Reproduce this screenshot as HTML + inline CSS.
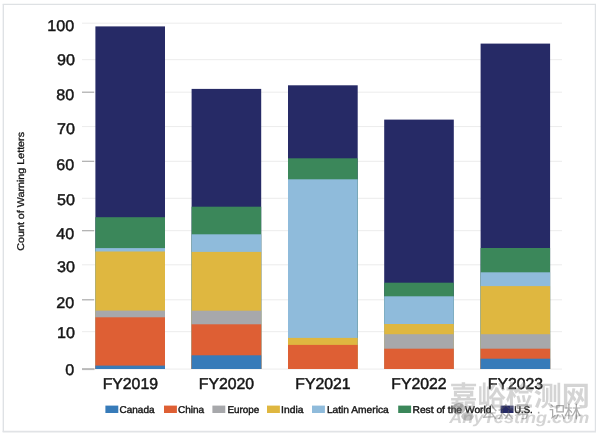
<!DOCTYPE html>
<html lang="en"><head><meta charset="utf-8"><title>Count of Warning Letters</title>
<style>
html,body{margin:0;padding:0;background:#fff;}
body{width:600px;height:436px;overflow:hidden;font-family:"Liberation Sans","Noto Sans CJK SC",sans-serif;}
svg{display:block}
text{text-rendering:geometricPrecision;font-family:"Liberation Sans","Noto Sans CJK SC",sans-serif;fill:#161616}
.yl{font-size:15.5px;text-anchor:end;stroke:#161616;stroke-width:0.45px}
.xl{font-size:15.8px;text-anchor:middle;stroke:#161616;stroke-width:0.5px}
.lg{font-size:9.9px;stroke:#161616;stroke-width:0.42px}
.yt{font-size:9.8px;stroke:#161616;stroke-width:0.3px}
.wm{fill:#d4d4d4}
</style></head><body>
<svg width="600" height="436" viewBox="0 0 600 436">
<rect x="0" y="0" width="600" height="436" fill="#fff"/>
<line x1="2.65" y1="4.4" x2="596" y2="4.4" stroke="#dee1e4" stroke-width="1.3"/>
<line x1="3.3" y1="4.4" x2="3.3" y2="432" stroke="#dee1e4" stroke-width="1.3"/>
<line x1="595.4" y1="4.4" x2="595.4" y2="432" stroke="#dee1e4" stroke-width="1.2"/>
<line x1="2.65" y1="431.6" x2="596" y2="431.6" stroke="#e1e3e6" stroke-width="1.9"/>

<line x1="82" y1="23.2" x2="562" y2="23.2" stroke="#ececec" stroke-width="1"/>
<line x1="82" y1="59.7" x2="562" y2="59.7" stroke="#ececec" stroke-width="1"/>
<line x1="82" y1="92.2" x2="562" y2="92.2" stroke="#ececec" stroke-width="1"/>
<line x1="82" y1="126.6" x2="562" y2="126.6" stroke="#ececec" stroke-width="1"/>
<line x1="82" y1="161.3" x2="562" y2="161.3" stroke="#ececec" stroke-width="1"/>
<line x1="82" y1="198.3" x2="562" y2="198.3" stroke="#ececec" stroke-width="1"/>
<line x1="82" y1="230.7" x2="562" y2="230.7" stroke="#ececec" stroke-width="1"/>
<line x1="82" y1="264.8" x2="562" y2="264.8" stroke="#ececec" stroke-width="1"/>
<line x1="82" y1="299.8" x2="562" y2="299.8" stroke="#ececec" stroke-width="1"/>
<line x1="82" y1="331.7" x2="562" y2="331.7" stroke="#ececec" stroke-width="1"/>
<line x1="82" y1="369.1" x2="562" y2="369.1" stroke="#ececec" stroke-width="1"/>
<line x1="82" y1="92.2" x2="94" y2="92.2" stroke="#a9a9a9" stroke-width="1.1"/>
<line x1="82" y1="161.3" x2="94" y2="161.3" stroke="#a9a9a9" stroke-width="1.1"/>
<line x1="82" y1="230.7" x2="94" y2="230.7" stroke="#a9a9a9" stroke-width="1.1"/>
<line x1="82" y1="299.8" x2="94" y2="299.8" stroke="#a9a9a9" stroke-width="1.1"/>
<line x1="82" y1="369.10" x2="94.5" y2="369.10" stroke="#b9b9b9" stroke-width="2"/>
<rect x="95.4" y="26.4" width="69.6" height="342.6" fill="#262a66"/>
<rect x="95.4" y="217.2" width="69.6" height="151.8" fill="#3b875a"/>
<rect x="95.4" y="248.1" width="69.6" height="120.9" fill="#8fbbdb"/>
<rect x="95.4" y="251.5" width="69.6" height="117.5" fill="#dfb740"/>
<rect x="95.4" y="310.6" width="69.6" height="58.4" fill="#a7a8ab"/>
<rect x="95.4" y="317.3" width="69.6" height="51.7" fill="#de5f34"/>
<rect x="95.4" y="365.6" width="69.6" height="3.4" fill="#377bb9"/>
<rect x="191.6" y="88.9" width="69.6" height="280.1" fill="#262a66"/>
<rect x="191.6" y="206.7" width="69.6" height="162.3" fill="#3b875a"/>
<rect x="191.6" y="234.3" width="69.6" height="134.7" fill="#8fbbdb"/>
<rect x="191.6" y="251.9" width="69.6" height="117.1" fill="#dfb740"/>
<rect x="191.6" y="310.7" width="69.6" height="58.3" fill="#a7a8ab"/>
<rect x="191.6" y="324.3" width="69.6" height="44.7" fill="#de5f34"/>
<rect x="191.6" y="355.3" width="69.6" height="13.7" fill="#377bb9"/>
<rect x="288.0" y="85.3" width="69.7" height="283.7" fill="#262a66"/>
<rect x="288.0" y="158.3" width="69.7" height="210.7" fill="#3b875a"/>
<rect x="288.0" y="179.3" width="69.7" height="189.7" fill="#8fbbdb"/>
<rect x="288.0" y="337.9" width="69.7" height="31.1" fill="#dfb740"/>
<rect x="288.0" y="344.9" width="69.7" height="24.1" fill="#de5f34"/>
<rect x="384.2" y="119.6" width="69.6" height="249.4" fill="#262a66"/>
<rect x="384.2" y="282.7" width="69.6" height="86.3" fill="#3b875a"/>
<rect x="384.2" y="296.3" width="69.6" height="72.7" fill="#8fbbdb"/>
<rect x="384.2" y="324.0" width="69.6" height="45.0" fill="#dfb740"/>
<rect x="384.2" y="334.2" width="69.6" height="34.8" fill="#a7a8ab"/>
<rect x="384.2" y="348.7" width="69.6" height="20.3" fill="#de5f34"/>
<rect x="480.6" y="43.6" width="69.5" height="325.4" fill="#262a66"/>
<rect x="480.6" y="248.0" width="69.5" height="121.0" fill="#3b875a"/>
<rect x="480.6" y="272.3" width="69.5" height="96.7" fill="#8fbbdb"/>
<rect x="480.6" y="286.1" width="69.5" height="82.9" fill="#dfb740"/>
<rect x="480.6" y="334.2" width="69.5" height="34.8" fill="#a7a8ab"/>
<rect x="480.6" y="348.7" width="69.5" height="20.3" fill="#de5f34"/>
<rect x="480.6" y="358.7" width="69.5" height="10.3" fill="#377bb9"/>
<rect x="105.4" y="405.6" width="12.9" height="7.4" fill="#377bb9"/>
<rect x="164.0" y="405.6" width="12.9" height="7.4" fill="#de5f34"/>
<rect x="212.4" y="405.6" width="12.9" height="7.4" fill="#a7a8ab"/>
<rect x="267.0" y="405.6" width="12.9" height="7.4" fill="#dfb740"/>
<rect x="312.0" y="405.6" width="12.9" height="7.4" fill="#8fbbdb"/>
<rect x="398.2" y="405.6" width="12.9" height="7.4" fill="#3b875a"/>
<rect x="500.6" y="405.6" width="12.9" height="7.4" fill="#262a66"/>
<text class="yl" transform="translate(74.2,31.4) scale(1.04,1)">100</text>
<text class="yl" transform="translate(75.0,65.2) scale(1.04,1)">90</text>
<text class="yl" transform="translate(74.2,100.4) scale(1.04,1)">80</text>
<text class="yl" transform="translate(75.0,134.3) scale(1.04,1)">70</text>
<text class="yl" transform="translate(74.2,169.6) scale(1.04,1)">60</text>
<text class="yl" transform="translate(75.0,204.5) scale(1.04,1)">50</text>
<text class="yl" transform="translate(74.2,239.0) scale(1.04,1)">40</text>
<text class="yl" transform="translate(75.0,272.3) scale(1.04,1)">30</text>
<text class="yl" transform="translate(74.2,307.9) scale(1.04,1)">20</text>
<text class="yl" transform="translate(75.0,337.9) scale(1.04,1)">10</text>
<text class="yl" transform="translate(74.2,375.2) scale(1.04,1)">0</text>
<text class="xl" x="130.3" y="389.3">FY2019</text>
<text class="xl" x="226.5" y="389.3">FY2020</text>
<text class="xl" x="322.9" y="389.3">FY2021</text>
<text class="xl" x="419.0" y="389.3">FY2022</text>
<text class="xl" x="515.4" y="389.3">FY2023</text>
<text transform="translate(24.3,250.7) rotate(-90)" class="yt" textLength="118.7" lengthAdjust="spacingAndGlyphs">Count of Warning Letters</text>
<text class="lg" x="119.5" y="413" textLength="35.0" lengthAdjust="spacingAndGlyphs">Canada</text>
<text class="lg" x="177.9" y="413" textLength="26.2" lengthAdjust="spacingAndGlyphs">China</text>
<text class="lg" x="227.5" y="413" textLength="31.8" lengthAdjust="spacingAndGlyphs">Europe</text>
<text class="lg" x="281.1" y="413" textLength="22.4" lengthAdjust="spacingAndGlyphs">India</text>
<text class="lg" x="326.9" y="413" textLength="61.8" lengthAdjust="spacingAndGlyphs">Latin America</text>
<text class="lg" x="412.5" y="413" textLength="79.0" lengthAdjust="spacingAndGlyphs">Rest of the World</text>
<text class="lg" x="514.3" y="413" textLength="18.3" lengthAdjust="spacingAndGlyphs">U.S.</text>
<g opacity="0.4">
<text x="449.4" y="405.6" font-size="28" font-weight="700" style="fill:#969696" textLength="140.5" lengthAdjust="spacingAndGlyphs">嘉峪检测网</text>
<text x="449.3" y="423" font-size="16" style="fill:#969696" font-style="italic" font-weight="bold" textLength="140" lengthAdjust="spacingAndGlyphs">AnyTesting.com</text>
</g>
<g opacity="0.45">
<ellipse cx="458.8" cy="408.7" rx="6.5" ry="5.7" fill="#6e6e6e"/><ellipse cx="467.5" cy="416.3" rx="6.2" ry="4.4" fill="#808080"/>
<text x="480.6" y="417.8" font-size="17" style="fill:#585858" font-weight="400" textLength="50.5" lengthAdjust="spacing">公众号</text>
<text x="536" y="417.2" font-size="16" style="fill:#404040" font-weight="400">·</text>
<text x="548.8" y="417.9" font-size="17" style="fill:#484848" font-weight="400" textLength="32.5" lengthAdjust="spacing">识林</text>
</g>
</svg>
</body></html>
